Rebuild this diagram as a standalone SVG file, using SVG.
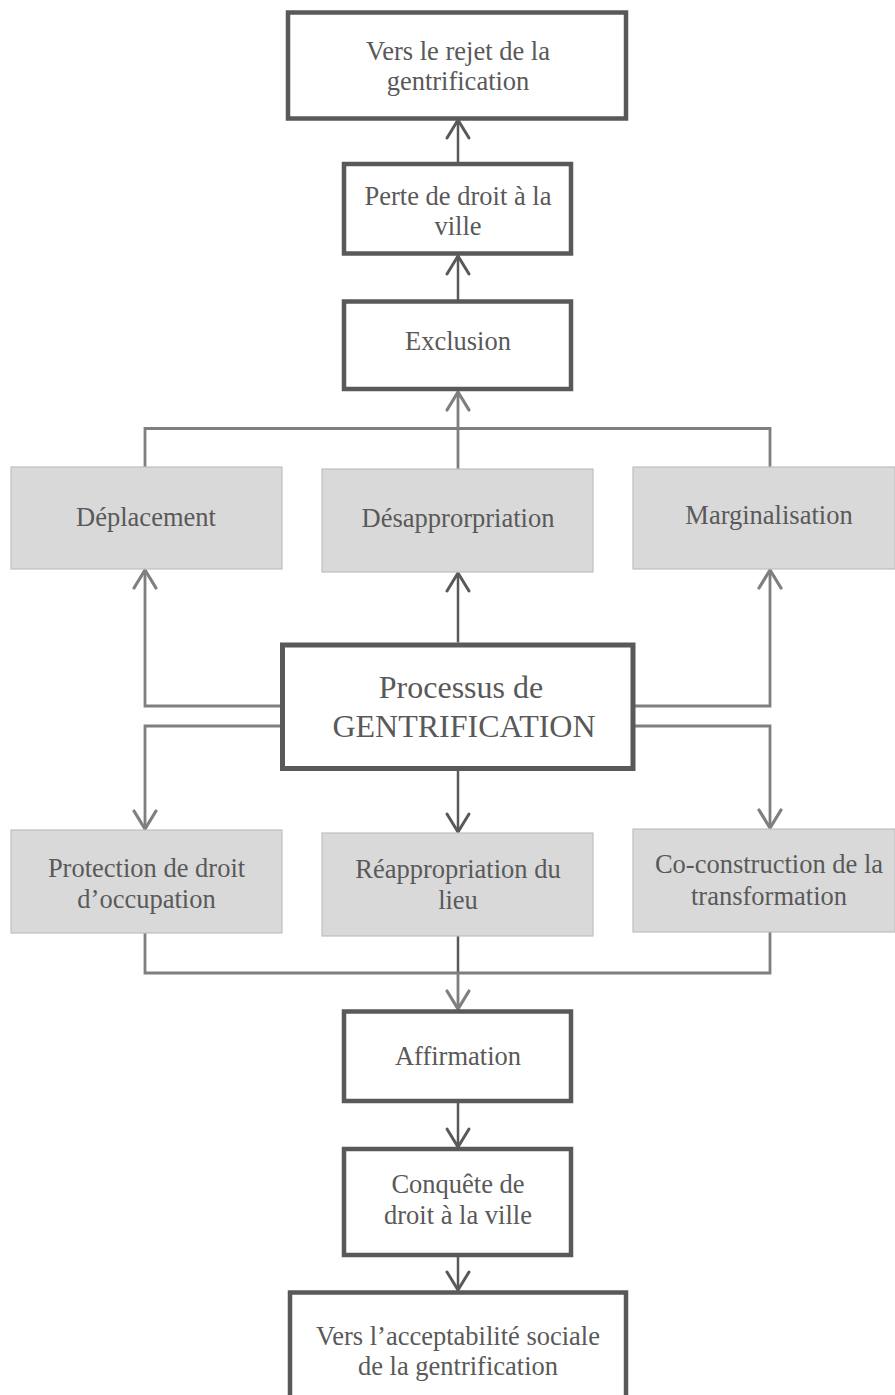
<svg xmlns="http://www.w3.org/2000/svg" width="895" height="1395" viewBox="0 0 895 1395" font-family="Liberation Serif, serif">
  <style>
    .txt { font-size: 26.5px; fill: #595959; text-anchor: middle; }
    .big { font-size: 32px; }
    .main { fill: #ffffff; stroke: #595959; stroke-width: 4.5; }
    .core { fill: #ffffff; stroke: #595959; stroke-width: 5; }
    .soft { fill: #d9d9d9; stroke: #bfbfbf; stroke-width: 1.2; }
    .dark { fill: none; stroke: #595959; stroke-width: 2.5; }
    .grey { fill: none; stroke: #7f7f7f; stroke-width: 2.8; }
  </style>
  <defs>
    <marker id="headDark" viewBox="-22 -14 26 28" markerWidth="26" markerHeight="28" refX="0" refY="0" orient="auto" markerUnits="userSpaceOnUse" overflow="visible">
      <path d="M-18,-11 L0,0 L-18,11" fill="none" stroke="#595959" stroke-width="3" stroke-linecap="round" stroke-linejoin="round"/>
    </marker>
    <marker id="headGrey" viewBox="-22 -14 26 28" markerWidth="26" markerHeight="28" refX="0" refY="0" orient="auto" markerUnits="userSpaceOnUse" overflow="visible">
      <path d="M-18,-11 L0,0 L-18,11" fill="none" stroke="#7f7f7f" stroke-width="3.2" stroke-linecap="round" stroke-linejoin="round"/>
    </marker>
  </defs>

  <rect width="895" height="1395" fill="#ffffff"/>

  <!-- connectors -->
  <g id="connectors">
    <!-- upward chain -->
    <path class="dark" d="M458,164 V120" marker-end="url(#headDark)"/>
    <path class="dark" d="M458,301.5 V256" marker-end="url(#headDark)"/>
    <!-- consequences merging into Exclusion -->
    <path class="grey" d="M145,467 V428.5 H458 V392" marker-end="url(#headGrey)"/>
    <path class="grey" d="M770,467 V428.5 H458"/>
    <path class="grey" d="M458,469 V428.5"/>
    <!-- from the central process upward -->
    <path class="dark" d="M458,642.5 V573" marker-end="url(#headDark)"/>
    <path class="grey" d="M282,706 H145 V570" marker-end="url(#headGrey)"/>
    <path class="grey" d="M633,706 H770 V570" marker-end="url(#headGrey)"/>
    <!-- from the central process downward -->
    <path class="dark" d="M458,771 V832" marker-end="url(#headDark)"/>
    <path class="grey" d="M282,726 H145 V829" marker-end="url(#headGrey)"/>
    <path class="grey" d="M633,726 H770 V828" marker-end="url(#headGrey)"/>
    <!-- responses merging into Affirmation -->
    <path class="dark" d="M458,936 V973"/>
    <path class="grey" d="M145,933 V973 H458 V1009" marker-end="url(#headGrey)"/>
    <path class="grey" d="M770,932 V973 H458"/>
    <!-- downward chain -->
    <path class="dark" d="M458,1101 V1147" marker-end="url(#headDark)"/>
    <path class="dark" d="M458,1255 V1290" marker-end="url(#headDark)"/>
  </g>

  <!-- upper chain -->
  <g id="rejet">
    <rect class="main" x="288" y="12.5" width="338" height="106"/>
    <text class="txt" font-family="Liberation Serif, serif" x="458" y="60">Vers le rejet de la</text>
    <text class="txt" font-family="Liberation Serif, serif" x="458" y="90">gentrification</text>
  </g>
  <g id="perte">
    <rect class="main" x="344" y="164" width="227" height="89.5"/>
    <text class="txt" font-family="Liberation Serif, serif" x="458" y="205">Perte de droit à la</text>
    <text class="txt" font-family="Liberation Serif, serif" x="458" y="235">ville</text>
  </g>
  <g id="exclusion">
    <rect class="main" x="344" y="301.5" width="227" height="87.5"/>
    <text class="txt" font-family="Liberation Serif, serif" x="458" y="350">Exclusion</text>
  </g>

  <!-- negative effects -->
  <g id="deplacement">
    <rect class="soft" x="11" y="467" width="271" height="102"/>
    <text class="txt" font-family="Liberation Serif, serif" x="146" y="526">Déplacement</text>
  </g>
  <g id="desappropriation">
    <rect class="soft" x="322" y="469" width="271" height="103"/>
    <text class="txt" font-family="Liberation Serif, serif" x="458" y="527">Désapprorpriation</text>
  </g>
  <g id="marginalisation">
    <rect class="soft" x="633" y="467" width="262" height="102"/>
    <text class="txt" font-family="Liberation Serif, serif" x="769" y="524">Marginalisation</text>
  </g>

  <!-- central process -->
  <g id="processus">
    <rect class="core" x="282.5" y="645" width="350.5" height="123.5"/>
    <text class="txt big" font-family="Liberation Serif, serif" x="461" y="698">Processus de</text>
    <text class="txt big" font-family="Liberation Serif, serif" x="464" y="737">GENTRIFICATION</text>
  </g>

  <!-- responses -->
  <g id="protection">
    <rect class="soft" x="11" y="830" width="271" height="103"/>
    <text class="txt" font-family="Liberation Serif, serif" x="146.5" y="877">Protection de droit</text>
    <text class="txt" font-family="Liberation Serif, serif" x="146.5" y="908">d’occupation</text>
  </g>
  <g id="reappropriation">
    <rect class="soft" x="322" y="833" width="271" height="103"/>
    <text class="txt" font-family="Liberation Serif, serif" x="458" y="878">Réappropriation du</text>
    <text class="txt" font-family="Liberation Serif, serif" x="458" y="909">lieu</text>
  </g>
  <g id="coconstruction">
    <rect class="soft" x="633" y="829" width="262" height="103"/>
    <text class="txt" font-family="Liberation Serif, serif" x="769" y="873">Co-construction de la</text>
    <text class="txt" font-family="Liberation Serif, serif" x="769" y="905">transformation</text>
  </g>

  <!-- lower chain -->
  <g id="affirmation">
    <rect class="main" x="344" y="1011.5" width="227" height="89.5"/>
    <text class="txt" font-family="Liberation Serif, serif" x="458" y="1065">Affirmation</text>
  </g>
  <g id="conquete">
    <rect class="main" x="344" y="1149" width="227" height="106"/>
    <text class="txt" font-family="Liberation Serif, serif" x="458" y="1193">Conquête de</text>
    <text class="txt" font-family="Liberation Serif, serif" x="458" y="1224">droit à la ville</text>
  </g>
  <g id="acceptabilite">
    <rect class="main" x="290" y="1292.5" width="336" height="130"/>
    <text class="txt" font-family="Liberation Serif, serif" x="458" y="1345">Vers l’acceptabilité sociale</text>
    <text class="txt" font-family="Liberation Serif, serif" x="458" y="1375">de la gentrification</text>
  </g>
</svg>
